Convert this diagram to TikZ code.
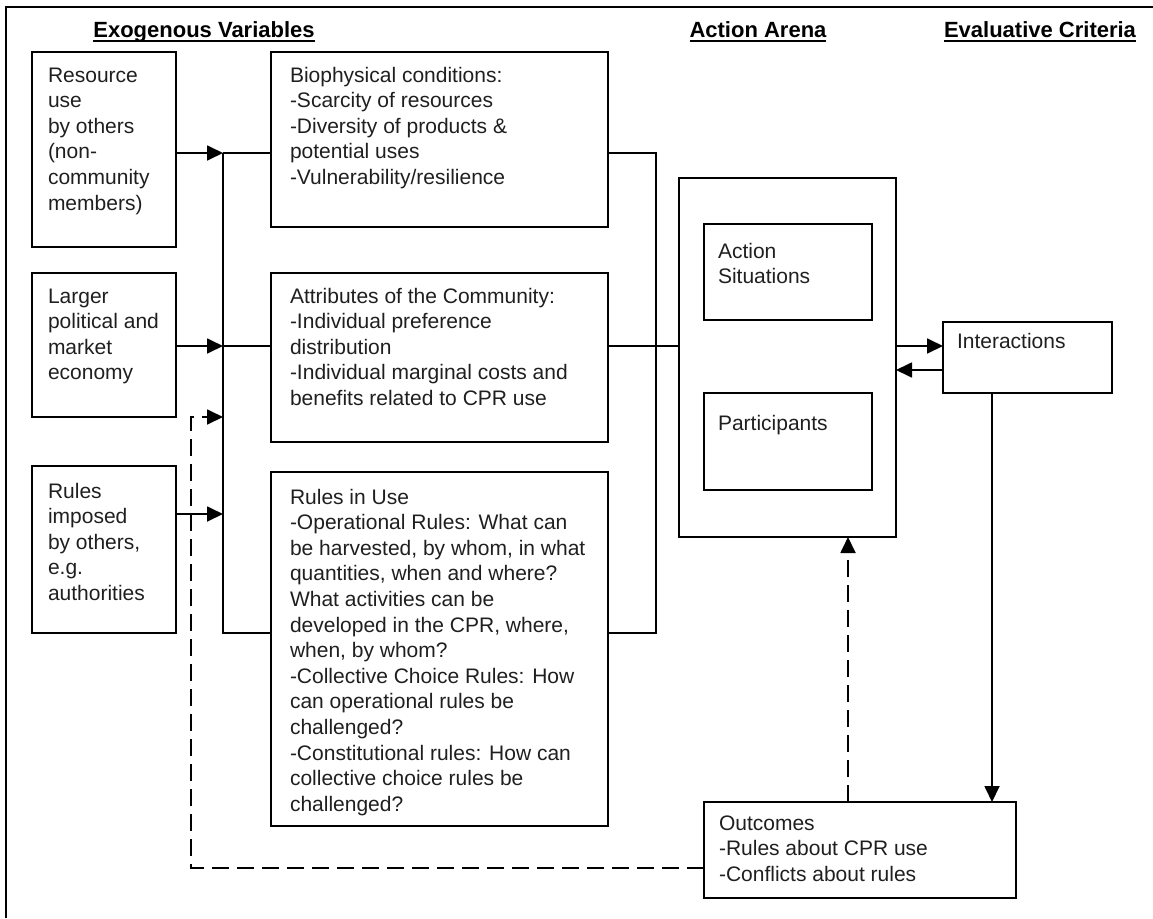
\documentclass[tikz,border=0pt]{standalone}
\usepackage{fontspec}
\setmainfont{Liberation Sans}
\usetikzlibrary{arrows.meta}
\newcommand{\bt}[5]{\parbox[t][#2pt][t]{#1pt}{\raggedright\leftskip=#4pt\rule{0pt}{#3pt}#5}}
\newcommand{\hul}[1]{\setbox0=\hbox{#1}\rlap{\rule[-5pt]{\wd0}{2pt}}\box0}
\tikzset{
  box/.style={draw, line width=1.8pt, inner sep=0pt, outer sep=0pt, anchor=north west,
              font=\fontsize{21}{25.6}\selectfont, text=black!88},
  head/.style={anchor=base, inner sep=0pt, font=\fontsize{22}{24}\selectfont\bfseries},
  conn/.style={line width=1.8pt},
  arr/.style={conn, -{Triangle[length=16pt,width=15pt]}},
  dashln/.style={conn, dash pattern=on 17pt off 8pt},
}
\begin{document}
\begin{tikzpicture}[x=1pt,y=-1pt]
\useasboundingbox (0,0) rectangle (1153,918);
% outer frame
\draw[line width=1.8pt] (1153,7) -- (6,7) -- (6,918);
% headings
\node[head] (h1) at (204,37) {\hul{Exogenous Variables}};
\node[head] (h2) at (758,37) {\hul{Action Arena}};
\node[head] (h3) at (1040,37) {\hul{Evaluative Criteria}};
% left boxes
\node[box] (b1) at (32,52) {\bt{144}{195}{30}{16}{Resource\\use\\by others\\(non-\\community\\members)}};
\node[box] (b2) at (32,273) {\bt{144}{144}{30}{16}{Larger\\political and\\market\\economy}};
\node[box] (b3) at (32,466) {\bt{144}{167}{32}{16}{Rules\\imposed\\by others,\\e.g.\\authorities}};
% middle boxes
\node[box] (bio) at (271,52) {\bt{337}{175}{30}{19}{Biophysical conditions:\\-Scarcity of resources\\-Diversity of products \&\\potential uses\\-Vulnerability/resilience}};
\node[box] (attr) at (271,273) {\bt{337}{169}{30}{19}{Attributes of the Community:\\-Individual preference\\distribution\\-Individual marginal costs and\\benefits related to CPR use}};
\node[box] (rules) at (271,472) {\bt{337}{354}{32}{19}{Rules in Use\\-Operational Rules: What can\\be harvested, by whom, in what\\quantities, when and where?\\What activities can be\\developed in the CPR, where,\\when, by whom?\\-Collective Choice Rules: How\\can operational rules be\\challenged?\\-Constitutional rules: How can\\collective choice rules be\\challenged?}};
% action arena
\node[box] (arena) at (679,178) {\bt{217}{359}{28}{0}{}};
\node[box] (sit) at (704,224) {\bt{168}{96}{34}{14}{Action\\Situations}};
\node[box] (part) at (704,393) {\bt{168}{97}{37}{14}{Participants}};
% evaluative
\node[box] (inter) at (943,322) {\bt{169}{71}{26}{14}{Interactions}};
\node[box] (out) at (704,802) {\bt{312}{96}{28}{15}{Outcomes\\-Rules about CPR use\\-Conflicts about rules}};
% junction coordinates
\coordinate (y153) at (0,153);
\coordinate (y346) at (0,346);
\coordinate (y370) at (0,370);
\coordinate (y417) at (0,417);
\coordinate (y514) at (0,514);
\coordinate (y633) at (0,633);
\coordinate (y868) at (0,868);
\coordinate (xL) at (223,0);
\coordinate (xR) at (656,0);
\coordinate (xD) at (191,0);
\coordinate (xO) at (992,0);
\coordinate (xA) at (848,0);
% left bus
\draw[arr] (b1.east |- y153) -- (xL |- y153);
\draw[conn] (xL |- y153) -- (bio.west |- y153);
\draw[arr] (b2.east |- y346) -- (xL |- y346);
\draw[conn] (xL |- y346) -- (attr.west |- y346);
\draw[arr] (b3.east |- y514) -- (xL |- y514);
\draw[conn] (xL |- y153) -- (xL |- y633) -- (rules.west |- y633);
% right bus
\draw[conn] (bio.east |- y153) -- (xR |- y153) -- (xR |- y633) -- (rules.east |- y633);
\draw[conn] (attr.east |- y346) -- (arena.west |- y346);
% interactions
\draw[arr] (arena.east |- y346) -- (inter.west |- y346);
\draw[arr] (inter.west |- y370) -- (arena.east |- y370);
\draw[arr] (xO |- inter.south) -- (xO |- out.north);
% feedback dashed
\draw[dashln, -{Triangle[length=16pt,width=15pt]}] (xA |- out.north) -- (xA |- arena.south);
\draw[dashln, -{Triangle[length=16pt,width=15pt]}] (out.west |- y868) -- (xD |- y868) -- (xD |- y417) -- (xL |- y417);
\end{tikzpicture}
\end{document}
